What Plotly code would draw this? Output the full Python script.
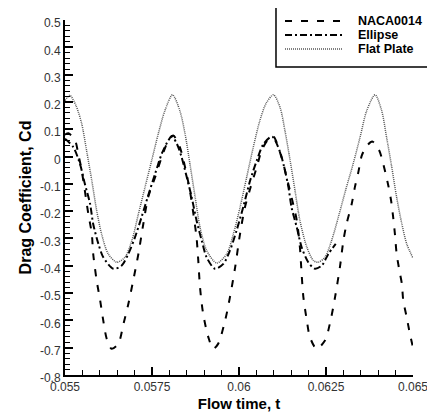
import plotly.graph_objects as go

# ---- data ----
t_naca = [0.05500, 0.05510, 0.05529, 0.05538, 0.05548, 0.05557, 0.05567, 0.05577, 0.05581, 0.05591,
          0.05601, 0.05610, 0.05620, 0.05634, 0.05653, 0.05668, 0.05682, 0.05696, 0.05711, 0.05725,
          0.05739, 0.05759, 0.05778, 0.05797, 0.05811, 0.05830, 0.05845, 0.05859, 0.05869, 0.05878,
          0.05883, 0.05888, 0.05897, 0.05912, 0.05926, 0.05940, 0.05960, 0.05974, 0.05989, 0.06003,
          0.06017, 0.06032, 0.06051, 0.06065, 0.06082, 0.06098, 0.06122, 0.06137, 0.06151, 0.06166,
          0.06175, 0.06180, 0.06185, 0.06195, 0.06204, 0.06223, 0.06247, 0.06261, 0.06276, 0.06290,
          0.06300, 0.06309, 0.06324, 0.06333, 0.06343, 0.06353, 0.06368, 0.06383, 0.06403, 0.06418,
          0.06429, 0.06437, 0.06443, 0.06448, 0.06453, 0.06461, 0.06468, 0.06472, 0.06482, 0.06491,
          0.06500]
cd_naca = [0.080, 0.085, 0.059, 0.010, -0.051, -0.125, -0.210, -0.283, -0.356, -0.454,
           -0.527, -0.601, -0.668, -0.704, -0.686, -0.613, -0.540, -0.454, -0.356, -0.247,
           -0.149, -0.076, -0.002, 0.059, 0.077, 0.034, -0.039, -0.125, -0.210, -0.296,
           -0.381, -0.479, -0.576, -0.662, -0.704, -0.686, -0.601, -0.515, -0.405, -0.283,
           -0.186, -0.118, -0.039, 0.022, 0.060, 0.075, -0.002, -0.076, -0.149, -0.234,
           -0.332, -0.430, -0.515, -0.601, -0.662, -0.704, -0.674, -0.613, -0.515, -0.405,
           -0.308, -0.247, -0.173, -0.112, -0.057, 0.004, 0.040, 0.055, 0.022, -0.045,
           -0.106, -0.161, -0.222, -0.283, -0.356, -0.418, -0.466, -0.527, -0.589, -0.649,
           -0.699]

t_ellipse = [0.05500, 0.05524, 0.05543, 0.05557, 0.05572, 0.05581, 0.05596, 0.05610, 0.05639, 0.05663,
             0.05682, 0.05701, 0.05720, 0.05739, 0.05759, 0.05778, 0.05797, 0.05807, 0.05822, 0.05835,
             0.05850, 0.05864, 0.05878, 0.05893, 0.05907, 0.05931, 0.05955, 0.05974, 0.05993, 0.06012,
             0.06032, 0.06051, 0.06070, 0.06095, 0.06118, 0.06132, 0.06142, 0.06151, 0.06166, 0.06180,
             0.06199, 0.06218, 0.06238, 0.06257, 0.06278]
cd_ellipse = [0.065, 0.034, -0.027, -0.100, -0.173, -0.247, -0.320, -0.369, -0.411, -0.399,
              -0.356, -0.296, -0.222, -0.143, -0.063, 0.010, 0.059, 0.075, 0.045, -0.002,
              -0.076, -0.149, -0.234, -0.308, -0.369, -0.411, -0.393, -0.344, -0.271, -0.186,
              -0.088, -0.015, 0.045, 0.073, 0.016, -0.051, -0.112, -0.186, -0.259, -0.332,
              -0.387, -0.411, -0.399, -0.356, -0.320]

t_flat = [0.05500, 0.05514, 0.05532, 0.05548, 0.05562, 0.05577, 0.05591, 0.05605, 0.05624, 0.05649,
          0.05672, 0.05692, 0.05711, 0.05730, 0.05749, 0.05768, 0.05787, 0.05809, 0.05830, 0.05845,
          0.05859, 0.05874, 0.05888, 0.05907, 0.05936, 0.05965, 0.05984, 0.06003, 0.06022, 0.06041,
          0.06060, 0.06078, 0.06099, 0.06118, 0.06132, 0.06147, 0.06161, 0.06175, 0.06195, 0.06214,
          0.06228, 0.06247, 0.06266, 0.06287, 0.06307, 0.06328, 0.06348, 0.06367, 0.06391, 0.06410,
          0.06424, 0.06439, 0.06453, 0.06468, 0.06482, 0.06500]
cd_flat = [0.205, 0.224, 0.185, 0.120, 0.022, -0.088, -0.198, -0.283, -0.356, -0.387,
           -0.369, -0.308, -0.210, -0.112, -0.015, 0.083, 0.168, 0.226, 0.168, 0.083,
           -0.027, -0.149, -0.259, -0.344, -0.390, -0.356, -0.283, -0.186, -0.076, 0.034,
           0.132, 0.195, 0.226, 0.180, 0.095, -0.015, -0.125, -0.234, -0.332, -0.381,
           -0.387, -0.369, -0.308, -0.215, -0.120, -0.027, 0.071, 0.168, 0.226, 0.168,
           0.071, -0.039, -0.149, -0.247, -0.320, -0.372]

series_names = ["NACA0014", "Ellipse", "Flat Plate"]

x_tickvals = [0.055, 0.0575, 0.06, 0.0625, 0.065]
x_ticktext = ["0.055", "0.0575", "0.06", "0.0625", "0.065"]
y_tickvals = [0.5, 0.4, 0.3, 0.2, 0.1, 0.0, -0.1, -0.2, -0.3, -0.4, -0.5, -0.6, -0.7, -0.8]
y_ticktext = ["0.5", "0.4", "0.3", "0.2", "0.1", "0", "-0.1", "-0.2", "-0.3", "-0.4",
              "-0.5", "-0.6", "-0.7", "-0.8"]

FONT = "Liberation Sans, Arial, sans-serif"
styles = [
    dict(color="black", width=2, dash="7px,9px"),
    dict(color="black", width=2, dash="7px,3px,2px,3px"),
    dict(color="#555555", width=1.5, dash="1px,1px"),
]

fig = go.Figure()
for name, t, cd, st in zip(series_names, [t_naca, t_ellipse, t_flat],
                           [cd_naca, cd_ellipse, cd_flat], styles):
    fig.add_trace(go.Scatter(x=t, y=cd, mode="lines", name=name,
                             line=dict(shape="spline", smoothing=0.8, **st),
                             showlegend=False))

# manual legend (box, line samples, labels) in paper coordinates
fig.add_shape(type="rect", xref="paper", yref="paper", x0=0.6063, x1=1.0575, y0=0.8676, y1=1.0507,
              line=dict(color="black", width=1.5), fillcolor="white", layer="above")
row_y = [0.9972, 0.9577, 0.9183]
for name, ry, st in zip(series_names, row_y, styles):
    fig.add_shape(type="line", xref="paper", yref="paper", x0=0.6322, x1=0.796, y0=ry, y1=ry,
                  line=st, layer="above")
    fig.add_annotation(xref="paper", yref="paper", x=0.839, y=ry, text=name, showarrow=False,
                       xanchor="left", yanchor="middle", borderpad=0,
                       font=dict(family=FONT, size=12.5, color="black", weight="bold"))

axis_common = dict(showline=True, linewidth=2, linecolor="black", mirror=False,
                   ticks="inside", ticklen=8, tickwidth=2, tickcolor="black",
                   showgrid=False, zeroline=False, automargin=False,
                   tickfont=dict(family=FONT, size=12, color="#333333"))

fig.update_xaxes(range=[0.055, 0.065], tickmode="array", tickvals=x_tickvals, ticktext=x_ticktext,
                 minor=dict(ticks="inside", ticklen=5, tickwidth=1, tickcolor="black",
                            dtick=0.0005, tick0=0.055, showgrid=False),
                 ticklabelstandoff=0,
                 title=dict(text="Flow time, t",
                            font=dict(family=FONT, size=15, color="black", weight="bold")),
                 **axis_common)
fig.update_yaxes(range=[-0.8, 0.5], tickmode="array", tickvals=y_tickvals, ticktext=y_ticktext,
                 minor=dict(ticks="inside", ticklen=5, tickwidth=1, tickcolor="black",
                            dtick=0.02, tick0=0.0, showgrid=False),
                 ticklabelstandoff=0, ticklabelshift=3,
                 title=dict(text="Drag Coefficient, Cd", standoff=4,
                            font=dict(family=FONT, size=16, color="black", weight="bold")),
                 **axis_common)

# the page adds an 8 px body margin, so the figure is 8 px smaller and its
# left/top margins 8 px smaller to keep the plot area where the reference has it
fig.update_layout(width=427, height=404, autosize=False,
                  margin=dict(l=57, r=22, t=12, b=37),
                  paper_bgcolor="white", plot_bgcolor="white",
                  font=dict(family=FONT))

fig.write_html("out.html")
